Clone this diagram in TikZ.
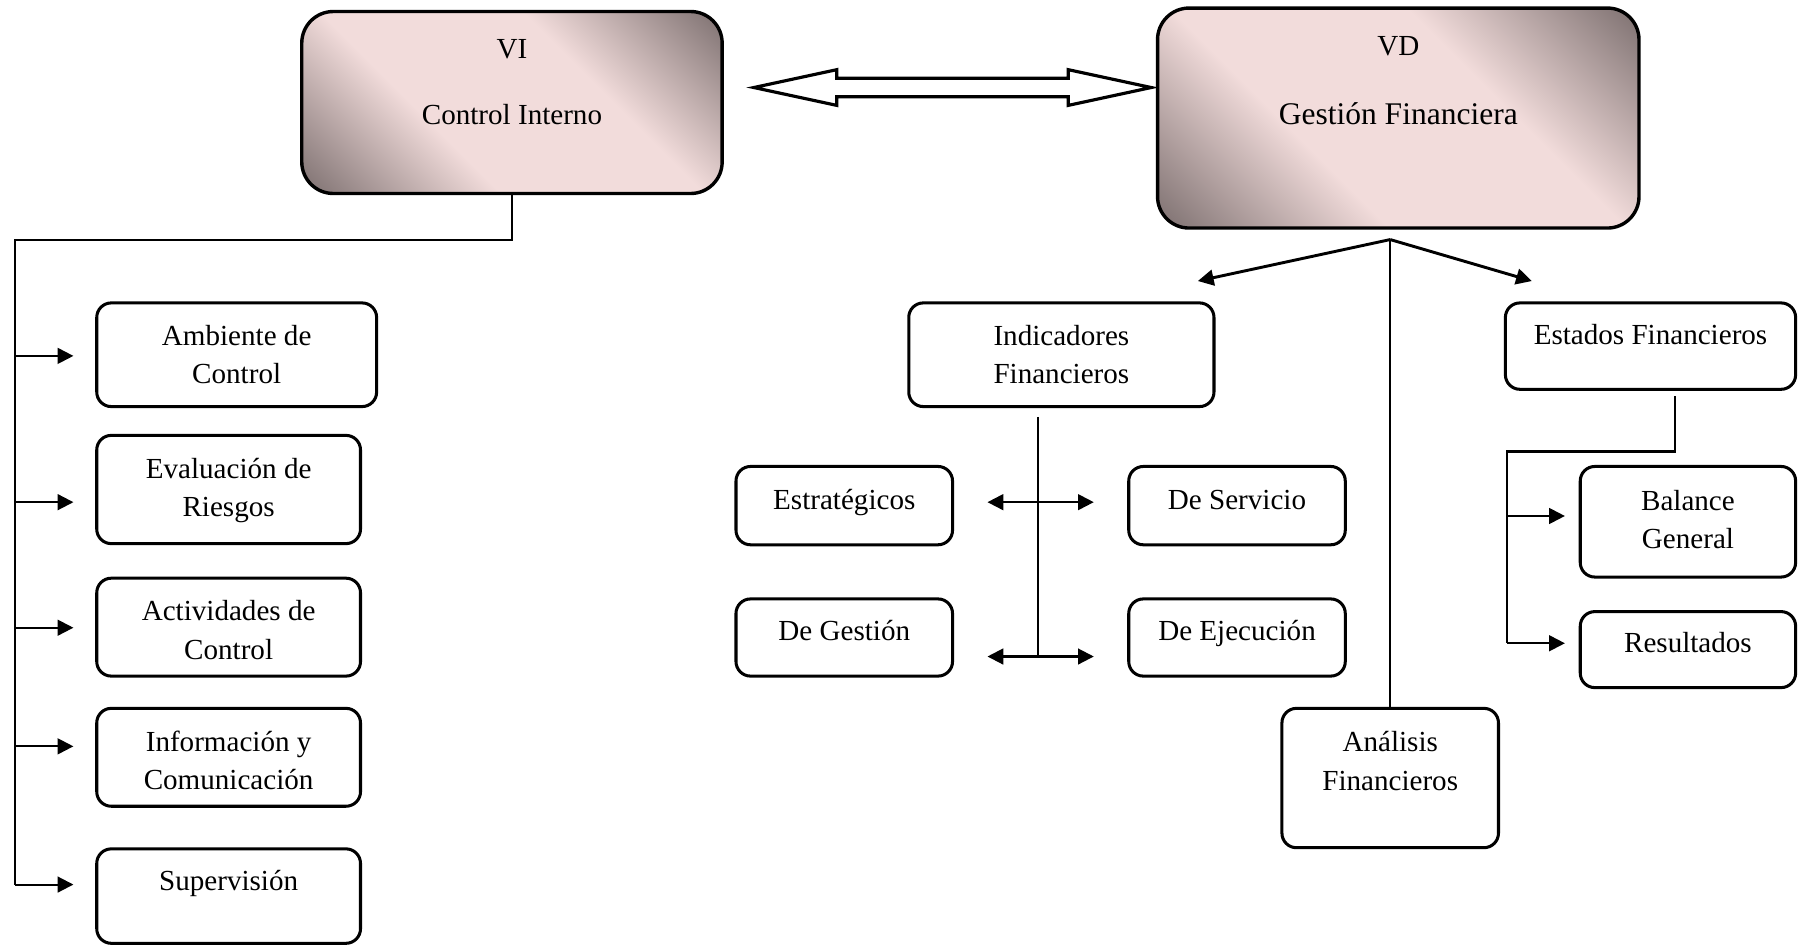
\documentclass[tikz,border=0pt]{standalone}
\usepackage{fontspec}
\setmainfont{Liberation Serif}
\usepackage{tikz}
\usetikzlibrary{arrows.meta}
\usetikzlibrary{calc}
\usetikzlibrary{fit}

\definecolor{boxlight}{HTML}{F2DCDB}
\definecolor{boxdark}{HTML}{6F6363}
\pgfdeclarehorizontalshading{boxshade}{100bp}{color(0bp)=(boxdark); color(12bp)=(boxdark); color(38bp)=(boxlight); color(62bp)=(boxlight); color(88bp)=(boxdark); color(100bp)=(boxdark)}

\tikzstyle{topbox} = [draw, line width=1.4pt, rounded corners=13pt, shading=boxshade, shading angle=45, inner sep=0pt]
\tikzstyle{box} = [draw, line width=1.25pt, rounded corners=6pt, inner sep=0pt]
\tikzstyle{txt} = [align=center, inner sep=0pt, anchor=base, font=\fontsize{12}{15.8}\selectfont]
\tikzstyle{conn} = [line width=0.85pt]
\tikzstyle{arr} = [-{Triangle[length=6.5pt,width=6.5pt]}]
\tikzstyle{arrs} = [{Triangle[length=6.5pt,width=6.5pt]}-{Triangle[length=6.5pt,width=6.5pt]}]

\begin{document}
\begin{tikzpicture}[x=0.475pt, y=-0.475pt]
	\useasboundingbox (0,0) rectangle (1568,821);
	
	% variables
	\node[topbox, fit={(262,10) (627,168)}] (vi) {};
	\node[topbox, fit={(1005,7) (1423,198)}] (vd) {};
	\node[txt] (vi-a) at (444.5,50.7) {VI};
	\node[txt] (vi-b) at (444.5,107.7) {Control Interno};
	\node[txt] (vd-a) at (1214,47.8) {VD};
	\node[txt, font=\fontsize{13}{16}\selectfont] (vd-b) at (1214,107.7) {Gestión Financiera};
	
	\draw[line width=1.3pt, fill=white] (654.5,76) -- ++(72,-15.5) -- ++(0,7.5) -- ++(201,0) -- ++(0,-7.5) -- ++(72,15.5) -- ++(-72,15.5) -- ++(0,-7.5) -- ++(-201,0) -- ++(0,7.5) -- cycle ;
	
	% control interno
	\node[box, fit={(84,263) (327,353)}] (amb) {};
	\node[box, fit={(84,378) (313,472)}] (eva) {};
	\node[box, fit={(84,502) (313,587)}] (act) {};
	\node[box, fit={(84,615) (313,700)}] (inf) {};
	\node[box, fit={(84,737) (313,819)}] (sup) {};
	
	\node[txt] (amb-t) at (205.5,333.3) {Ambiente de\\Control};
	\node[txt] (eva-t) at (198.5,448.3) {Evaluación de\\Riesgos};
	\node[txt] (act-t) at (198.5,572.3) {Actividades de\\Control};
	\node[txt] (inf-t) at (198.5,685.3) {Información y\\Comunicación};
	\node[txt] (sup-t) at (198.5,773) {Supervisión};
	
	\coordinate (trunk) at (13,208);
	\coordinate (trunk-end) at (13,768);
	\draw[conn] (vi.south) |- (trunk) -- (trunk-end);
	
	\foreach \n/\y in {amb/309, eva/436, act/545, inf/648, sup/768}
	{
		\coordinate (\n-in) at (13,\y);
		\draw[conn, arr, shorten >=9pt] (\n-in) -- (\n-in -| \n.west);
	}
	
	% indicadores
	\node[box, fit={(789,263) (1054,353)}] (ind) {};
	\node[box, fit={(639,405) (827,473)}] (est) {};
	\node[box, fit={(980,405) (1168,473)}] (ser) {};
	\node[box, fit={(639,520) (827,587)}] (ges) {};
	\node[box, fit={(980,520) (1168,587)}] (eje) {};
	
	\node[txt] (ind-t) at (921.5,333.3) {Indicadores\\Financieros};
	\node[txt] (est-t) at (733,442) {Estratégicos};
	\node[txt] (ser-t) at (1074,442) {De Servicio};
	\node[txt] (ges-t) at (733,556) {De Gestión};
	\node[txt] (eje-t) at (1074,556) {De Ejecución};
	
	\coordinate (ind-out) at (901,362);
	\coordinate (hub-a) at (901,436);
	\coordinate (hub-b) at (901,570);
	\draw[conn] (ind-out) -- (hub-b);
	\draw[conn, arrs, shorten <=13.8pt, shorten >=13.8pt] (hub-a -| est.east) -- (hub-a -| ser.west);
	\draw[conn, arrs, shorten <=13.8pt, shorten >=13.8pt] (hub-b -| ges.east) -- (hub-b -| eje.west);
	
	% estados y analisis
	\node[box, fit={(1307,263) (1559,338)}] (fin) {};
	\node[box, fit={(1372,405) (1559,501)}] (bal) {};
	\node[box, fit={(1372,531) (1559,597)}] (res) {};
	\node[box, fit={(1113,615) (1301,736)}] (ana) {};
	
	\node[txt] (fin-t) at (1433,299.5) {Estados Financieros};
	\node[txt] (bal-t) at (1465.5,476.1) {Balance\\General};
	\node[txt] (res-t) at (1465.5,566.7) {Resultados};
	\node[txt] (ana-t) at (1207,685.9) {Análisis\\Financieros};
	
	\coordinate (apex) at (1207,208);
	\coordinate (fan-l) at (1040,244);
	\coordinate (fan-r) at (1330,244);
	\draw[conn] (apex) -- (ana.north);
	\draw[conn, line width=1.2pt, arr] (apex) -- (fan-l);
	\draw[conn, line width=1.2pt, arr] (apex) -- (fan-r);
	
	\coordinate (fin-out) at (1454,344);
	\coordinate (fin-bus) at (1308,392);
	\coordinate (bal-in) at (1308,448);
	\coordinate (res-in) at (1308,558.5);
	\draw[conn] (fin-out) |- (fin-bus) -- (res-in);
	\draw[conn, arr, shorten >=5.7pt] (bal-in) -- (bal-in -| bal.west);
	\draw[conn, arr, shorten >=5.7pt] (res-in) -- (res-in -| res.west);
	
\end{tikzpicture}
\end{document}
